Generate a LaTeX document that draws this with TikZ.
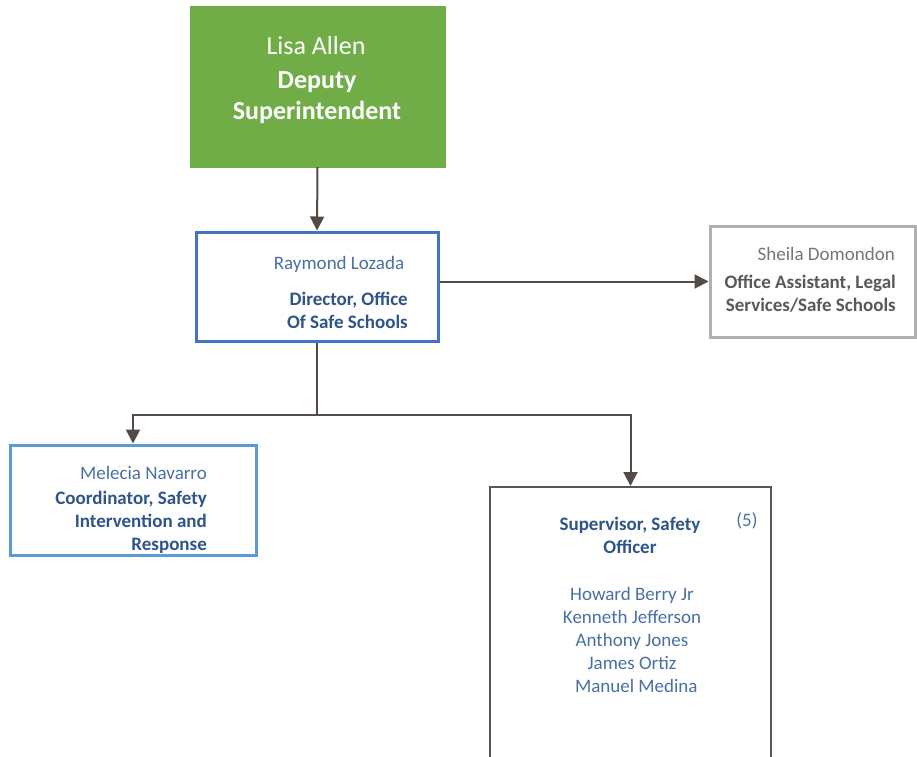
\documentclass[tikz,border=0pt]{standalone}
\usepackage{fontspec}
\setmainfont{Carlito}
\usetikzlibrary{arrows.meta, positioning}
\definecolor{depcol}{RGB}{112,173,71}
\definecolor{dircol}{RGB}{68,114,196}
\definecolor{coordcol}{RGB}{91,155,213}
\definecolor{asstcol}{RGB}{175,175,175}
\definecolor{supcol}{RGB}{90,86,84}
\definecolor{linecol}{RGB}{84,74,70}
\definecolor{namecol}{RGB}{74,112,163}
\definecolor{titlecol}{RGB}{46,84,138}
\definecolor{gnamecol}{RGB}{118,118,118}
\definecolor{gtitlecol}{RGB}{88,88,88}

\begin{document}
\begin{tikzpicture}[
  x=1pt, y=-1pt,
  >={Triangle[length=14pt,width=14pt]},
  depb/.style   = {fill=depcol, draw=depcol, inner sep=0pt,
                   minimum width=255pt, minimum height=161pt},
  dirb/.style   = {draw=dircol, line width=3pt, fill=white, inner sep=0pt,
                   minimum width=242pt, minimum height=109pt},
  asstb/.style  = {draw=asstcol, line width=3pt, fill=white, inner sep=0pt,
                   minimum width=205pt, minimum height=111pt},
  coordb/.style = {draw=coordcol, line width=3pt, fill=white, inner sep=0pt,
                   minimum width=246pt, minimum height=110pt},
  supb/.style   = {draw=supcol, line width=2pt, fill=white, inner sep=0pt,
                   minimum width=281pt, minimum height=300pt},
  txt/.style    = {inner sep=0pt, font=\fontsize{19}{23}\selectfont},
  bigtxt/.style = {inner sep=0pt, text=white, font=\fontsize{26}{31}\selectfont},
  conn/.style   = {draw=linecol, line width=2pt},
  arr/.style    = {->, draw=linecol, line width=2pt},
]
\clip (0,0) rectangle (917,756);

% ---------- boxes ----------
\node[depb]   (deputy)   at (317.5,86.5)  {};
\node[dirb]   (director) at (317,286.5)   {};
\node[asstb]  (asst)     at (812.5,281.5) {};
\node[coordb] (coord)    at (133,500)     {};
\node[supb]   (super)    at (630.5,637)   {};

% ---------- texts ----------
\node[bigtxt] (depname)  at (316,46) {Lisa Allen};
\node[bigtxt, font=\fontsize{26}{31}\selectfont\bfseries, align=center]
              (deptitle) at (317,97.5) {Deputy\\Superintendent};

\node[txt, text=namecol] (dirname) at (339,264) {Raymond Lozada};
\node[txt, text=titlecol, font=\fontsize{19}{23}\selectfont\bfseries, align=right, anchor=east]
              (dirtitle) at (408,310.5) {Director, Office\\Of Safe Schools};

\node[txt, text=gnamecol, anchor=east] (asstname) at (895,254) {Sheila Domondon};
\node[txt, text=gtitlecol, font=\fontsize{19}{23}\selectfont\bfseries, align=right, anchor=east]
              (assttitle) at (896,293.5) {Office Assistant, Legal\\Services/Safe Schools};

\node[txt, text=namecol, anchor=east] (coordname) at (207,473) {Melecia Navarro};
\node[txt, text=titlecol, font=\fontsize{19}{23}\selectfont\bfseries, align=right, anchor=east]
              (coordtitle) at (207,522) {Coordinator, Safety\\Intervention and\\Response};

\node[txt, text=titlecol, font=\fontsize{19}{23}\selectfont\bfseries, align=center]
              (suptitle) at (630,535.5) {Supervisor, Safety\\Officer};
\node[txt, text=namecol] (supcount) at (747,521) {(5)};
\node[txt, text=namecol, align=center]
              (supnames) at (632,639.5) {Howard Berry Jr\\Kenneth Jefferson\\Anthony Jones\\James Ortiz\\\ \ Manuel Medina};

% ---------- connectors ----------
\coordinate (split) at (director.south |- 0,415);
\draw[arr]  (deputy.south) -- (director.north);
\draw[arr]  (director.east |- asst.west) -- (asst.west);
\draw[conn] (director.south) -- (split);
\draw[arr]  (split) -| (coord.north);
\draw[arr]  (split) -| (super.north);

\end{tikzpicture}
\end{document}
